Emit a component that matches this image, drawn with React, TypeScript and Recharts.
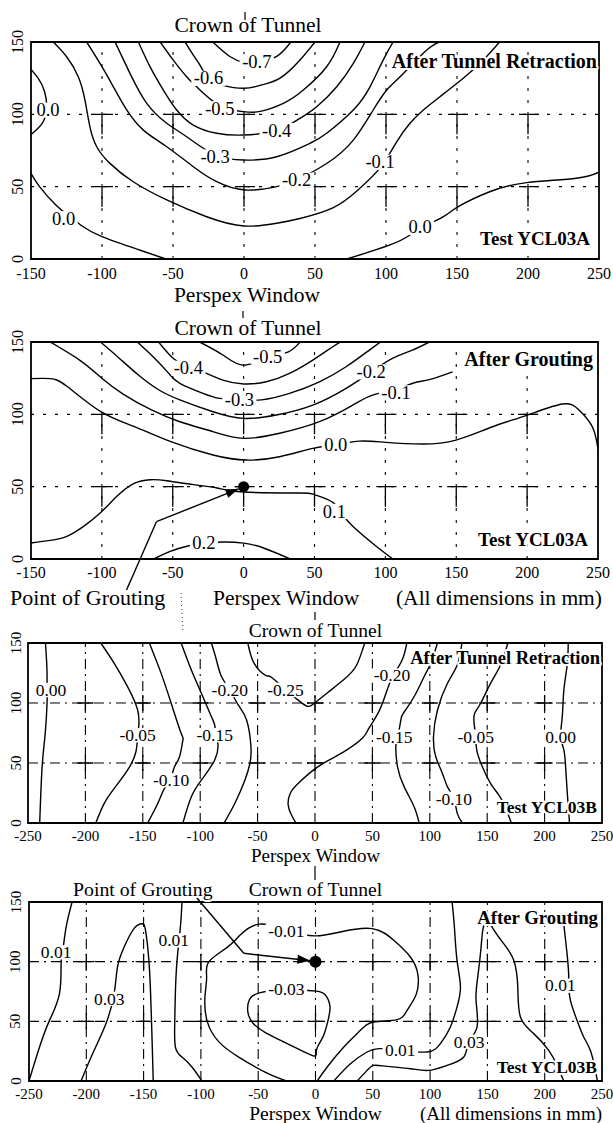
import { ComposedChart, Line, Scatter, XAxis, YAxis, ReferenceLine, ReferenceDot, ReferenceArea } from "recharts"

const SERIF = "'Liberation Serif', 'Times New Roman', serif"

type Pt = [number, number]
type Tag = [string, number, number]

// ---------- panel 1 : YCL03A after tunnel retraction ----------
const p1Ticks = [-150, -100, -50, 0, 50, 100, 150, 200, 250]
const p1m07: Pt[] = [[-22, 150], [-10, 140], [0, 136], [10, 136], [23, 140], [33, 150]]
const p1m06: Pt[] = [[-41.5, 150], [-35.7, 141], [-31, 134], [-25, 125], [-15, 120], [0, 118], [11.3, 120], [25.4, 125], [39.4, 137.5], [50, 150]]
const p1m05: Pt[] = [[-59, 150], [-49.8, 137.5], [-40.4, 126], [-33.3, 119], [-17, 106], [0, 101.8], [11.3, 102], [27.7, 107.6], [41.8, 116.8], [58.2, 132.9], [67.6, 150]]
const p1m04: Pt[] = [[-74.4, 150], [-66.2, 133], [-56.8, 116.8], [-47.4, 103], [-35.7, 92.6], [-19.2, 86.9], [0, 85.7], [23, 89], [39.4, 97.2], [51.2, 105.3], [65.3, 119.1], [77, 135.2], [85.2, 150]]
const p1m03: Pt[] = [[-90.8, 150], [-80.3, 128.3], [-68.5, 107.6], [-54.4, 93.8], [-40.4, 84.5], [-20.4, 72], [0, 68.4], [23, 70.7], [46.5, 80], [58.2, 86.9], [77, 103], [88.7, 119], [98, 137.5], [105, 150]]
const p1m02: Pt[] = [[-110.8, 150], [-101.4, 135.2], [-92, 119], [-82.6, 103], [-70.9, 89.1], [-54.4, 77.6], [-35.7, 63.8], [-19.2, 53.4], [0.7, 47.7], [23, 50], [37, 54.6], [58.2, 66], [77, 82.2], [91, 103], [100.5, 116.8], [109.9, 126], [128.7, 144.4], [138, 150]]
const p1m01: Pt[] = [[-134.3, 150], [-124.9, 139.8], [-116.7, 126], [-112, 109.9], [-108.5, 91.4], [-103.7, 77.6], [-94.4, 66.1], [-78, 53.4], [-54.4, 40.8], [-26.3, 29.2], [0, 22.8], [23, 24.7], [39.4, 28], [62.9, 35.5], [80, 47.5], [95.8, 63], [107.5, 81], [116.9, 93.8], [126.3, 103], [138, 112.2], [154.4, 124.9], [168, 137], [180, 150]]
const p1z0a: Pt[] = [[-150, 131], [-145, 125], [-140.5, 116], [-139, 104], [-142, 94], [-150, 86]]
const p1z0b: Pt[] = [[-150, 59.2], [-144, 50], [-132.5, 37.3], [-123, 29.5], [-114, 22.8], [-100, 15.4], [-73.6, 6.2], [-55, 0]]
const p1z0c: Pt[] = [[72.3, 0], [102.8, 9.7], [116.9, 16.6], [124, 21], [140.4, 29.3], [150.9, 36.2], [173, 46.5], [199, 52.8], [234, 55.8], [250, 60]]
const p1Tags: Tag[] = [["0.0", -138, 103], ["0.0", -127, 28], ["-0.7", 9, 136.4], ["-0.6", -25, 125], ["-0.5", -17, 104], ["-0.4", 23, 89], ["-0.3", -20.4, 70.7], ["-0.2", 37, 54.6], ["-0.1", 95.8, 67], ["0.0", 124, 22]]

// ---------- panel 2 : YCL03A after grouting ----------
const p2m05: Pt[] = [[-31, 150], [-14.6, 141], [0, 134], [17, 139.5], [31.2, 143], [39.4, 149.5], [42, 152]]
const p2m04: Pt[] = [[-60, 150], [-50, 139], [-39, 132.5], [-26.3, 128.3], [-14.6, 123.7], [0, 121], [16, 122.5], [32.4, 128.3], [48.8, 137.5], [62.9, 146.7], [70, 151]]
const p2m03: Pt[] = [[-75, 150], [-63, 139], [-53, 128.5], [-45, 121.4], [-28.7, 114.5], [-16.9, 111], [-3, 110], [12.5, 110], [32.4, 114.5], [53.5, 122.5], [72.3, 132.9], [88.7, 144.4], [98, 151]]
const p2m02: Pt[] = [[-101, 150], [-88, 139], [-74, 127], [-60, 117], [-45, 110], [-21.6, 101.8], [0, 97.2], [23, 99.5], [48.8, 106.4], [72.3, 118], [90, 129.4], [105, 138.7], [119, 144.4], [131, 150]]
const p2m01: Pt[] = [[-136.5, 150], [-115, 137], [-100, 125], [-85, 114], [-65, 103], [-45, 94.9], [-21.6, 88], [0, 83.4], [25.4, 86.9], [53.5, 94.9], [77, 106.4], [91, 113.3], [107.5, 117.5], [120.4, 121.8], [131, 124], [147.4, 129.4]]
const p2z00: Pt[] = [[-150, 124.7], [-136.5, 124.7], [-124.7, 119.4], [-101, 102], [-77.6, 91.7], [-51.8, 81.3], [-21.6, 71.9], [1.9, 68.4], [25.4, 70.7], [48.8, 76.5], [65, 79], [81.7, 81.5], [100.5, 80.6], [126.3, 79.5], [149.8, 82.2], [175.6, 91.4], [200.2, 99.5], [224.9, 107.1], [236.6, 103], [246, 91.4], [250, 76]]
const p2p01: Pt[] = [[-150, 11.1], [-136.5, 12.9], [-124.7, 15.7], [-112.9, 22.6], [-101.2, 31.8], [-89.4, 43.3], [-77.6, 52.1], [-65.9, 54.8], [-54.1, 54.1], [-35.3, 51.4], [-18.8, 49.1], [0, 46.3], [39.4, 45.6], [50, 44.5], [62.9, 39.2], [70, 31], [77, 22.6], [93.5, 8.8], [105.3, 0]]
const p2p02: Pt[] = [[-63.5, 0], [-51.8, 5.3], [-40, 8.8], [-28, 11], [-14, 11.8], [0, 11], [14.1, 7.6], [32.9, 0]]
const p2Tags: Tag[] = [["-0.5", 17, 140], ["-0.4", -39, 132], ["-0.3", -3, 110], ["-0.2", 90, 129.4], ["-0.1", 107.5, 115], ["0.0", 65, 79], ["0.1", 64, 33], ["0.2", -28, 11]]
const p2Arrow: Pt[] = [[-82.6, -21.4], [-61.5, 25.8], [-3.5, 48.5]]
const p2Grout: Pt = [0, 50]

// ---------- panel 3 : YCL03B after tunnel retraction ----------
const p3Ticks = [-250, -200, -150, -100, -50, 0, 50, 100, 150, 200, 250]
const p3z0L: Pt[] = [[-234.8, 150], [-233.5, 128], [-233.4, 111], [-233.4, 100], [-235, 74.7], [-237.7, 46.8], [-239.8, 0]]
const p3m05L: Pt[] = [[-186.6, 150], [-175, 133.3], [-163.3, 113.7], [-154.5, 94.2], [-153.6, 80], [-154.5, 73.3], [-156, 59.4], [-163.3, 44], [-175, 28.7], [-183.7, 16.2], [-191, 0]]
const p3m10L: Pt[] = [[-144.3, 150], [-134.1, 124.9], [-125.3, 99.8], [-116.6, 74.7], [-115.1, 69.1], [-118, 55.2], [-122.4, 46.8], [-126, 36], [-131.2, 28.7], [-137, 16.2], [-145.8, 0]]
const p3m15L: Pt[] = [[-116.6, 150], [-107.8, 127.7], [-99, 108.2], [-90.3, 88.7], [-87.4, 81.7], [-86, 73], [-84.5, 65], [-87.4, 52.4], [-99, 35.7], [-107.8, 21.7], [-115.1, 0]]
const p3m20L: Pt[] = [[-90.3, 150], [-85.9, 136], [-81.5, 122.1], [-74.2, 111], [-66.9, 98.4], [-59.6, 85.9], [-55.8, 63.6], [-56.7, 49.6], [-61.1, 35.7], [-69.9, 16.2], [-79.2, 0]]
const p3m25: Pt[] = [[-58.5, 150], [-53, 133], [-43, 123], [-38, 121.5], [-25.7, 111], [-17.1, 104.2], [-8, 97.8], [-1.4, 99.2], [11.4, 108.9], [25.7, 120], [35.7, 130.6], [41.4, 144.4], [43.5, 150]]
const p3m20R: Pt[] = [[80, 150], [76, 136], [68.6, 123.6], [62.9, 111], [55.7, 93], [47.1, 79.2], [41.4, 70.8], [25.7, 59.7], [8.6, 50.6], [-2.9, 43], [-14.3, 33.3], [-21.4, 25], [-23.4, 15.3], [-20.6, 6.9], [-16.6, 0]]
const p3m15R: Pt[] = [[106.7, 150], [100.9, 133.3], [95.1, 122.1], [86.4, 105.4], [77.1, 91.7], [74.8, 85.9], [72, 72], [70.4, 63.6], [71.9, 46.8], [77.7, 30.1], [86.4, 13.4], [90.7, 0]]
const p3m10R: Pt[] = [[128, 150], [124, 131.9], [115.4, 116.5], [106.7, 94.2], [103.2, 71.9], [105.2, 55.2], [111, 41.3], [115.4, 30.1], [121, 20.3], [124, 7.8], [128.4, 0]]
const p3m05R: Pt[] = [[168, 150], [161.7, 131.9], [153, 116.5], [144.3, 99.8], [139.1, 91.4], [138.6, 83], [140, 72], [140.9, 60.8], [145.8, 46.8], [153, 32.9], [160.3, 23.1], [166, 13], [171, 0]]
const p3z0R: Pt[] = [[220.6, 150], [219.7, 131.9], [216.8, 111], [215.4, 88.7], [214, 72], [216.8, 60.8], [218.3, 46.8], [219.7, 25.9], [221.7, 0]]
const p3Tags: Tag[] = [["0.00", -230, 111], ["-0.05", -154.5, 73.3], ["-0.10", -125.3, 35.7], ["-0.15", -87.4, 73.3], ["-0.20", -74.2, 111], ["-0.25", -25.7, 111], ["-0.20", 67, 123], ["-0.15", 69, 72], ["-0.10", 121, 20.3], ["-0.05", 140, 72], ["0.00", 214, 72]]

// ---------- panel 4 : YCL03B after grouting ----------
const p4p01a: Pt[] = [[-212.4, 150], [-217.6, 129], [-220.5, 109.5], [-222, 98.3], [-223.4, 73.2], [-232.1, 50.8], [-240.8, 28.5], [-250, 0]]
const p4p03a: Pt[] = [[-204.6, 0], [-194.5, 22.9], [-182.9, 48], [-175.7, 73.2], [-172.8, 95.5], [-167, 112.3], [-158.4, 127.7], [-151.7, 131.8], [-148.3, 126.3], [-145.4, 101.1], [-143.9, 73.2], [-142.5, 31.3], [-141.6, 0]]
const p4p01b: Pt[] = [[-116.5, 150], [-117.9, 129], [-120.8, 101.1], [-122.3, 73.2], [-122.8, 50.8], [-122.3, 28.5], [-116.5, 20.1], [-107.8, 11.7], [-99.1, 0]]
const p4m01: Pt[] = [[-25.4, 0], [-44, 7.5], [-67, 20], [-84.5, 33], [-94.5, 50], [-96.5, 70], [-95, 87], [-93, 100], [-77, 112], [-65.5, 122.5], [-49, 131.5], [-25, 126.5], [-0.6, 121.6], [21.8, 124.9], [49.4, 127.7], [68.3, 117.9], [82.8, 103.9], [89.2, 89.9], [88.1, 73.2], [79.9, 59.2], [71.2, 51.4], [50.9, 49.4], [39.2, 42.5], [24.7, 28.5], [10.2, 11.7], [1.5, 0]]
const p4m03: Pt[] = [[0.9, 75.3], [8.2, 72.5], [12.6, 62.6], [11.1, 51.4], [6.7, 37.4], [0.9, 26.1], [-2, 21.1], [-22.5, 30.3], [-43, 40.2], [-54.7, 48.6], [-59.1, 58.4], [-57.6, 68.3], [-48.8, 73.9], [-25.4, 76.7], [0.9, 75.3]]
const p4p01c: Pt[] = [[16, 0], [30.5, 14.5], [45, 24.3], [55.2, 27.1], [74, 26], [97.4, 24.3], [109, 31.3], [117.7, 45.3], [123.5, 62], [126.5, 78.8], [123.5, 101.1], [121.2, 129], [119.2, 150]]
const p4p03b: Pt[] = [[36.3, 0], [45, 8.9], [50.9, 13.1], [62.5, 12.3], [82.8, 10.3], [98.8, 8.9], [114.8, 13.1], [129.4, 20.1], [133.7, 32.7], [141, 45.3], [140.1, 67.6], [141.6, 87.2], [144.5, 112.3], [146.2, 127.7], [149.7, 134.6], [154.9, 127.7], [164.2, 115.1], [173, 101.1], [176.5, 78.8], [178.8, 53.6], [190.4, 39.7], [203.5, 25.7], [210.8, 13.1], [216.6, 0]]
const p4p01d: Pt[] = [[216.6, 132], [219.5, 106.7], [220.9, 89.9], [221, 80], [222.4, 67.6], [228.2, 50.8], [234, 36.9], [239.8, 25.7], [244, 10], [246, 0]]
const p4Tags: Tag[] = [["0.01", -226.3, 108], ["0.03", -180, 69], ["0.01", -123.7, 118], ["-0.01", -25.4, 126], ["-0.03", -25.4, 77], ["0.01", 74, 26], ["0.03", 134, 33], ["0.01", 213.7, 80]]
const p4Arrow: Pt[] = [[-104, 154], [-62.6, 107], [-4.5, 100.8]]
const p4Grout: Pt = [0, 100]

const yTicks = [0, 50, 100, 150]
const gridY = [50, 100]

const pts = (a: Pt[]) => a.map(([x, y]) => ({ x, y }))

// rough glyph widths of the serif face, in em
const emWidth = (s: string) =>
  s.split("").reduce((w, c) => w + (c === "-" ? 0.333 : c === "." ? 0.25 : 0.5), 0)

type PanelProps = {
  top: number
  height: number
  margin: { top: number; right: number; bottom: number; left: number }
  yWidth: number
  yTickX: number
  xTickGap: number
  xTicks: number[]
  tickSize: number
  tagSize: number
  contours: Pt[][]
  tags: Tag[]
  dashed: string
  mark: "T" | "+"
  arrow?: Pt[]
  grout?: Pt
  groutR?: number
}

function arrowHead(p: any) {
  const { x1, y1, x2, y2 } = p
  const a = Math.atan2(y2 - y1, x2 - x1)
  const L = 13
  const W = 4.5
  const bx = x2 - L * Math.cos(a)
  const by = y2 - L * Math.sin(a)
  const px = -Math.sin(a) * W
  const py = Math.cos(a) * W
  return (
    <g>
      <line x1={x1} y1={y1} x2={x2} y2={y2} stroke="#000" strokeWidth={1.4} />
      <polygon points={`${x2},${y2} ${bx + px},${by + py} ${bx - px},${by - py}`} fill="#000" />
    </g>
  )
}

function Panel(p: PanelProps) {
  const bottom = p.height - p.margin.bottom - 30
  const x0 = p.xTicks[0]
  const x1 = p.xTicks[p.xTicks.length - 1]
  const gridX = p.xTicks.slice(1, -1)
  const marks: Pt[] = []
  gridX.forEach((gx) => gridY.forEach((gy) => marks.push([gx, gy])))
  const tagData = p.tags.map(([t, x, y]) => ({ t, x, y }))
  const fs = p.tagSize

  return (
    <div style={{ position: "absolute", left: 0, top: p.top }}>
      <ComposedChart width={613} height={p.height} margin={p.margin}>
        <XAxis
          type="number"
          dataKey="x"
          domain={[x0, x1]}
          ticks={p.xTicks}
          interval={0}
          allowDataOverflow
          tickLine={false}
          axisLine={false}
          height={30}
          tick={(t: any) => (
            <text x={t.x} y={bottom + p.xTickGap} textAnchor="middle" fontSize={p.tickSize} fontFamily={SERIF} fill="#000">
              {t.payload.value}
            </text>
          )}
        />
        <YAxis
          type="number"
          dataKey="y"
          domain={[0, 150]}
          ticks={yTicks}
          interval={0}
          allowDataOverflow
          tickLine={false}
          axisLine={false}
          width={p.yWidth}
          tick={(t: any) => (
            <text
              x={p.yTickX}
              y={t.y}
              transform={`rotate(-90 ${p.yTickX} ${t.y})`}
              textAnchor="middle"
              fontSize={p.tickSize}
              fontFamily={SERIF}
              fill="#000"
            >
              {t.payload.value}
            </text>
          )}
        />
        {gridX.map((gx) => (
          <ReferenceLine key={"gx" + gx} x={gx} stroke="#000" strokeWidth={1.1} strokeDasharray={p.dashed} />
        ))}
        {gridY.map((gy) => (
          <ReferenceLine key={"gy" + gy} y={gy} stroke="#000" strokeWidth={1.1} strokeDasharray={p.dashed} />
        ))}
        {marks.map(([mx, my]) => (
          <ReferenceDot
            key={"m" + mx + "_" + my}
            x={mx}
            y={my}
            r={0}
            shape={(s: any) =>
              p.mark === "T" ? (
                <path d={`M${s.cx - 9},${s.cy}H${s.cx + 11}M${s.cx},${s.cy}V${s.cy + 20}`} stroke="#000" strokeWidth={1.3} fill="none" />
              ) : (
                <path d={`M${s.cx - 8},${s.cy}H${s.cx + 8}M${s.cx},${s.cy - 8}V${s.cy + 8}`} stroke="#000" strokeWidth={1.3} fill="none" />
              )
            }
          />
        ))}
        {p.contours.map((c, i) => (
          <Line
            key={"c" + i}
            data={pts(c)}
            dataKey="y"
            type="natural"
            stroke="#000"
            strokeWidth={1.4}
            dot={false}
            activeDot={false}
            isAnimationActive={false}
          />
        ))}
        <ReferenceArea x1={x0} x2={x1} y1={0} y2={150} fill="none" stroke="#000" strokeWidth={1.8} />
        {p.arrow &&
          p.arrow.slice(1).map((pt, i) => (
            <ReferenceLine
              key={"a" + i}
              segment={[
                { x: p.arrow![i][0], y: p.arrow![i][1] },
                { x: pt[0], y: pt[1] },
              ]}
              ifOverflow="visible"
              stroke="#000"
              strokeWidth={1.4}
              shape={i === p.arrow!.length - 2 ? arrowHead : undefined}
            />
          ))}
        {p.grout && <ReferenceDot x={p.grout[0]} y={p.grout[1]} r={p.groutR} fill="#000" stroke="none" />}
        <Scatter
          data={tagData}
          isAnimationActive={false}
          shape={(s: any) => {
            const w = emWidth(s.payload.t) * fs + 5
            return (
              <g>
                <rect x={s.cx - w / 2} y={s.cy - 0.4 * fs} width={w} height={0.82 * fs} fill="#fff" />
                <text x={s.cx} y={s.cy} dy="0.34em" textAnchor="middle" fontSize={fs} fontFamily={SERIF} fill="#000">
                  {s.payload.t}
                </text>
              </g>
            )
          }}
        />
      </ComposedChart>
    </div>
  )
}

type Note = { t: string; x: number; y: number; s: number; b?: boolean; a?: "start" | "middle" | "end" }
const notes: Note[] = [
  { t: "Crown of Tunnel", x: 248, y: 32, s: 21.5, a: "middle" },
  { t: "After Tunnel Retraction", x: 597, y: 68, s: 20, b: true, a: "end" },
  { t: "Test YCL03A", x: 590, y: 245, s: 19, b: true, a: "end" },
  { t: "Perspex Window", x: 247, y: 302, s: 21.5, a: "middle" },
  { t: "Crown of Tunnel", x: 248, y: 335, s: 21.5, a: "middle" },
  { t: "After Grouting", x: 593, y: 366, s: 20, b: true, a: "end" },
  { t: "Test YCL03A", x: 588, y: 546, s: 19, b: true, a: "end" },
  { t: "Point of Grouting", x: 10, y: 605, s: 22, a: "start" },
  { t: "Perspex Window", x: 213, y: 605, s: 21.5, a: "start" },
  { t: "(All dimensions in mm)", x: 602, y: 605, s: 21.5, a: "end" },
  { t: "Crown of Tunnel", x: 315.5, y: 637, s: 19.5, a: "middle" },
  { t: "After Tunnel Retraction", x: 600, y: 664, s: 18.5, b: true, a: "end" },
  { t: "Test YCL03B", x: 597, y: 813, s: 17.5, b: true, a: "end" },
  { t: "Perspex Window", x: 315.5, y: 862, s: 19, a: "middle" },
  { t: "Point of Grouting", x: 73, y: 896, s: 19.8, a: "start" },
  { t: "Crown of Tunnel", x: 315.5, y: 896, s: 19.5, a: "middle" },
  { t: "After Grouting", x: 598, y: 924, s: 18.8, b: true, a: "end" },
  { t: "Test YCL03B", x: 597, y: 1073, s: 17.5, b: true, a: "end" },
  { t: "Perspex Window", x: 315.5, y: 1120, s: 19.5, a: "middle" },
  { t: "(All dimensions in mm)", x: 602, y: 1120, s: 19, a: "end" },
]

export default function App() {
  return (
    <div style={{ position: "absolute", left: 0, top: 0, width: 613, height: 1123, background: "#fff", overflow: "hidden" }}>
      <Panel
        top={0}
        height={300}
        margin={{ top: 42, right: 14, bottom: 11, left: 1 }}
        yWidth={30}
        yTickX={23}
        xTickGap={20}
        xTicks={p1Ticks}
        tickSize={16}
        tagSize={18.5}
        contours={[p1m07, p1m06, p1m05, p1m04, p1m03, p1m02, p1m01, p1z0a, p1z0b, p1z0c]}
        tags={p1Tags}
        dashed="3 9"
        mark="T"
      />
      <Panel
        top={280}
        height={330}
        margin={{ top: 62, right: 15, bottom: 21, left: 1 }}
        yWidth={30}
        yTickX={23}
        xTickGap={19}
        xTicks={p1Ticks}
        tickSize={16}
        tagSize={18.5}
        contours={[p2m05, p2m04, p2m03, p2m02, p2m01, p2z00, p2p01, p2p02]}
        tags={p2Tags}
        dashed="3 9"
        mark="T"
        arrow={p2Arrow}
        grout={p2Grout}
        groutR={5.5}
      />
      <Panel
        top={610}
        height={250}
        margin={{ top: 33, right: 11, bottom: 7, left: 1 }}
        yWidth={27}
        yTickX={20.5}
        xTickGap={18}
        xTicks={p3Ticks}
        tickSize={15}
        tagSize={17.5}
        contours={[p3z0L, p3m05L, p3m10L, p3m15L, p3m20L, p3m25, p3m20R, p3m15R, p3m10R, p3m05R, p3z0R]}
        tags={p3Tags}
        dashed="10 5 2 5"
        mark="+"
      />
      <Panel
        top={870}
        height={253}
        margin={{ top: 32, right: 11, bottom: 12, left: 1 }}
        yWidth={28}
        yTickX={20.5}
        xTickGap={18}
        xTicks={p3Ticks}
        tickSize={15}
        tagSize={17.5}
        contours={[p4p01a, p4p03a, p4p01b, p4m01, p4m03, p4p01c, p4p03b, p4p01d]}
        tags={p4Tags}
        dashed="10 5 2 5"
        mark="+"
        arrow={p4Arrow}
        grout={p4Grout}
        groutR={6}
      />
      <svg width={613} height={1123} style={{ position: "absolute", left: 0, top: 0, pointerEvents: "none" }}>
        <line x1={245} y1={12} x2={245} y2={20} stroke="#000" strokeWidth={1.2} />
        <line x1={243} y1={311} x2={243} y2={318} stroke="#000" strokeWidth={1.2} />
        <line x1={315} y1={612} x2={315} y2={620} stroke="#000" strokeWidth={1.2} />
        <line x1={315} y1={866} x2={315} y2={880} stroke="#000" strokeWidth={1.2} />
        <line x1={181} y1={593} x2={183} y2={633} stroke="#000" strokeWidth={0.8} strokeDasharray="1 3" />
        {notes.map((n, i) => (
          <text
            key={i}
            x={n.x}
            y={n.y}
            fontSize={n.s}
            fontWeight={n.b ? "bold" : "normal"}
            textAnchor={n.a}
            fontFamily={SERIF}
            fill="#000"
            stroke="#fff"
            strokeWidth={4}
            strokeLinejoin="round"
            paintOrder="stroke"
          >
            {n.t}
          </text>
        ))}
      </svg>
    </div>
  )
}
